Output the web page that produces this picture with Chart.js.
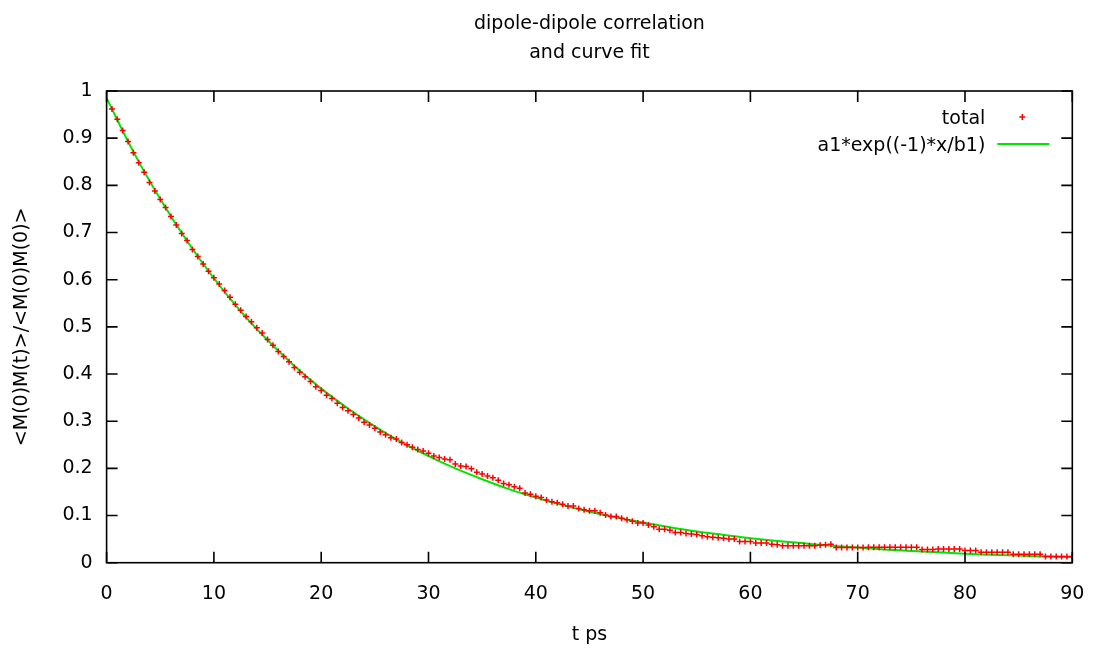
<!DOCTYPE html>
<html>
<head>
<meta charset="utf-8">
<title>dipole-dipole correlation</title>
<script src="https://cdn.jsdelivr.net/npm/chart.js@4/dist/chart.umd.min.js"></script>
<style>
  html, body { margin: 0; padding: 0; background: #fff; }
  #wrap { width: 1094px; height: 648px; }
</style>
</head>
<body>
<div id="wrap"><canvas id="corrChart"></canvas></div>
<script>
// Normalised dipole autocorrelation <M(0)M(t)>/<M(0)M(0)> vs time (ps),
// with the single-exponential fit drawn on top.

const times = [
  0, 0.5, 1, 1.5, 2, 2.5, 3, 3.5, 4, 4.5,
  5, 5.5, 6, 6.5, 7, 7.5, 8, 8.5, 9, 9.5,
  10, 10.5, 11, 11.5, 12, 12.5, 13, 13.5, 14, 14.5,
  15, 15.5, 16, 16.5, 17, 17.5, 18, 18.5, 19, 19.5,
  20, 20.5, 21, 21.5, 22, 22.5, 23, 23.5, 24, 24.5,
  25, 25.5, 26, 26.5, 27, 27.5, 28, 28.5, 29, 29.5,
  30, 30.5, 31, 31.5, 32, 32.5, 33, 33.5, 34, 34.5,
  35, 35.5, 36, 36.5, 37, 37.5, 38, 38.5, 39, 39.5,
  40, 40.5, 41, 41.5, 42, 42.5, 43, 43.5, 44, 44.5,
  45, 45.5, 46, 46.5, 47, 47.5, 48, 48.5, 49, 49.5,
  50, 50.5, 51, 51.5, 52, 52.5, 53, 53.5, 54, 54.5,
  55, 55.5, 56, 56.5, 57, 57.5, 58, 58.5, 59, 59.5,
  60, 60.5, 61, 61.5, 62, 62.5, 63, 63.5, 64, 64.5,
  65, 65.5, 66, 66.5, 67, 67.5, 68, 68.5, 69, 69.5,
  70, 70.5, 71, 71.5, 72, 72.5, 73, 73.5, 74, 74.5,
  75, 75.5, 76, 76.5, 77, 77.5, 78, 78.5, 79, 79.5,
  80, 80.5, 81, 81.5, 82, 82.5, 83, 83.5, 84, 84.5,
  85, 85.5, 86, 86.5, 87, 87.5, 88, 88.5, 89, 89.5,
  90
];

const total = [
  1.000, 0.962, 0.940, 0.916, 0.893, 0.869, 0.848, 0.828, 0.806, 0.788,
  0.770, 0.753, 0.734, 0.716, 0.698, 0.683, 0.664, 0.649, 0.633, 0.618,
  0.604, 0.591, 0.577, 0.563, 0.548, 0.535, 0.522, 0.511, 0.498, 0.487,
  0.473, 0.461, 0.448, 0.437, 0.426, 0.414, 0.404, 0.394, 0.384, 0.373,
  0.365, 0.355, 0.348, 0.338, 0.329, 0.322, 0.314, 0.307, 0.298, 0.292,
  0.285, 0.277, 0.271, 0.265, 0.262, 0.255, 0.250, 0.245, 0.240, 0.237,
  0.232, 0.226, 0.223, 0.220, 0.218, 0.209, 0.205, 0.204, 0.199, 0.192,
  0.188, 0.184, 0.180, 0.175, 0.168, 0.165, 0.161, 0.158, 0.148, 0.145,
  0.141, 0.138, 0.133, 0.129, 0.127, 0.124, 0.120, 0.120, 0.115, 0.112,
  0.110, 0.110, 0.106, 0.101, 0.098, 0.098, 0.094, 0.091, 0.088, 0.084,
  0.084, 0.080, 0.076, 0.071, 0.071, 0.069, 0.064, 0.064, 0.062, 0.061,
  0.060, 0.057, 0.055, 0.054, 0.053, 0.052, 0.050, 0.050, 0.045, 0.045,
  0.045, 0.042, 0.042, 0.042, 0.039, 0.038, 0.036, 0.036, 0.036, 0.036,
  0.036, 0.036, 0.036, 0.037, 0.038, 0.039, 0.032, 0.032, 0.032, 0.032,
  0.032, 0.032, 0.033, 0.033, 0.033, 0.033, 0.033, 0.033, 0.033, 0.033,
  0.033, 0.033, 0.028, 0.028, 0.028, 0.029, 0.029, 0.029, 0.029, 0.029,
  0.026, 0.026, 0.026, 0.022, 0.022, 0.022, 0.022, 0.022, 0.022, 0.018,
  0.018, 0.018, 0.018, 0.018, 0.018, 0.013, 0.013, 0.013, 0.013, 0.013,
  0.013
];

// fitted curve a1*exp(-x/b1), sampled every 2.5 ps
const fitTimes = [
  0, 2.5, 5, 7.5, 10, 12.5, 15, 17.5, 20, 22.5,
  25, 27.5, 30, 32.5, 35, 37.5, 40, 42.5, 45, 47.5,
  50, 52.5, 55, 57.5, 60, 62.5, 65, 67.5, 70, 72.5,
  75, 77.5, 80, 82.5, 85, 87.5, 90
];
const fitValues = [
  0.985, 0.871, 0.771, 0.682, 0.603, 0.533, 0.472, 0.417, 0.369, 0.327,
  0.289, 0.255, 0.226, 0.200, 0.177, 0.156, 0.138, 0.122, 0.108, 0.096,
  0.085, 0.075, 0.066, 0.059, 0.052, 0.046, 0.041, 0.036, 0.032, 0.028,
  0.025, 0.022, 0.019, 0.017, 0.015, 0.013, 0.012
];

const xTicks = [0, 10, 20, 30, 40, 50, 60, 70, 80, 90];
const yTicks = [0, 0.1, 0.2, 0.3, 0.4, 0.5, 0.6, 0.7, 0.8, 0.9, 1];
const yTickLabels = ['0', '0.1', '0.2', '0.3', '0.4', '0.5', '0.6', '0.7', '0.8', '0.9', '1'];

const FONT = 'DejaVu Sans';
const INK = '#000';

// gnuplot-style frame: border box with inward ticks mirrored on all sides
const frame = {
  id: 'frame',
  afterDraw(chart) {
    const { ctx, chartArea: a, scales } = chart;
    const len = 11;
    ctx.save();
    ctx.strokeStyle = INK;
    ctx.lineWidth = 1.6;
    ctx.strokeRect(a.left, a.top, a.right - a.left, a.bottom - a.top);
    ctx.beginPath();
    scales.x.ticks.forEach((t) => {
      const px = scales.x.getPixelForValue(t.value);
      ctx.moveTo(px, a.bottom); ctx.lineTo(px, a.bottom - len);
      ctx.moveTo(px, a.top); ctx.lineTo(px, a.top + len);
    });
    scales.y.ticks.forEach((t) => {
      const py = scales.y.getPixelForValue(t.value);
      ctx.moveTo(a.left, py); ctx.lineTo(a.left + len, py);
      ctx.moveTo(a.right, py); ctx.lineTo(a.right - len, py);
    });
    ctx.stroke();
    ctx.restore();
  },
};

// key in the top-right corner: label text first, sample to its right
const key = {
  id: 'key',
  afterDraw(chart) {
    const { ctx, chartArea: a } = chart;
    ctx.save();
    ctx.font = `19px "${FONT}"`;
    ctx.fillStyle = INK;
    ctx.textAlign = 'right';
    ctx.textBaseline = 'middle';
    chart.data.datasets.forEach((ds, i) => {
      const y = a.top + 28 + i * 27;
      ctx.fillText(ds.label, a.right - 87, y);
      ctx.strokeStyle = ds.borderColor;
      ctx.lineWidth = ds.borderWidth;
      if (ds.showLine) {
        ctx.beginPath();
        ctx.moveTo(a.right - 75, y - 2);
        ctx.lineTo(a.right - 23, y - 2);
        ctx.stroke();
      } else {
        Chart.helpers.drawPoint(ctx, { pointStyle: ds.pointStyle, radius: ds.pointRadius, borderWidth: ds.borderWidth }, a.right - 50, y - 2);
      }
    });
    ctx.restore();
  },
};

new Chart(document.getElementById('corrChart'), {
  type: 'scatter',
  data: {
    datasets: [
      {
        label: 'total',
        data: times.map((t, i) => ({ x: t, y: total[i] })),
        showLine: false,
        pointStyle: 'cross',
        pointRadius: 3,
        borderColor: '#ff0000',
        backgroundColor: '#ff0000',
        borderWidth: 1.5,
      },
      {
        label: 'a1*exp((-1)*x/b1)',
        data: fitTimes.map((t, i) => ({ x: t, y: fitValues[i] })),
        showLine: true,
        pointRadius: 0,
        borderColor: '#00e600',
        borderWidth: 2,
        cubicInterpolationMode: 'monotone',
      },
    ],
  },
  options: {
    responsive: true,
    maintainAspectRatio: false,
    animation: false,
    layout: { padding: { left: 0, right: 21.7, top: 0, bottom: 0 } },
    plugins: {
      legend: { display: false },
      tooltip: { enabled: false },
      title: {
        display: true,
        text: ['dipole-dipole correlation', 'and curve fit'],
        color: INK,
        fullSize: false,
        font: { family: FONT, size: 19, weight: 'normal', lineHeight: 1.5 },
        padding: { top: 10, bottom: 24 },
      },
    },
    scales: {
      x: {
        type: 'linear',
        min: 0,
        max: 90,
        afterBuildTicks: (s) => { s.ticks = xTicks.map((v) => ({ value: v })); },
        afterFit: (s) => { s.height = 85.3; s.paddingLeft = 0; s.paddingRight = 0; },
        grid: { display: false },
        border: { display: false },
        ticks: { color: INK, font: { family: FONT, size: 19 }, padding: 12, maxRotation: 0 },
        title: { display: true, text: 't ps', color: INK, font: { family: FONT, size: 19 }, padding: { top: 0, bottom: 2 } },
      },
      y: {
        type: 'linear',
        min: 0,
        max: 1,
        afterBuildTicks: (s) => { s.ticks = yTicks.map((v) => ({ value: v })); },
        afterFit: (s) => { s.width = 106.6; },
        grid: { display: false },
        border: { display: false },
        ticks: { color: INK, font: { family: FONT, size: 19 }, padding: 6, callback: (v, i) => yTickLabels[i] },
        title: { display: true, text: '<M(0)M(t)>/<M(0)M(0)>', color: INK, font: { family: FONT, size: 19 }, padding: { top: 11, bottom: 0 } },
      },
    },
  },
  plugins: [frame, key],
});
</script>
</body>
</html>
